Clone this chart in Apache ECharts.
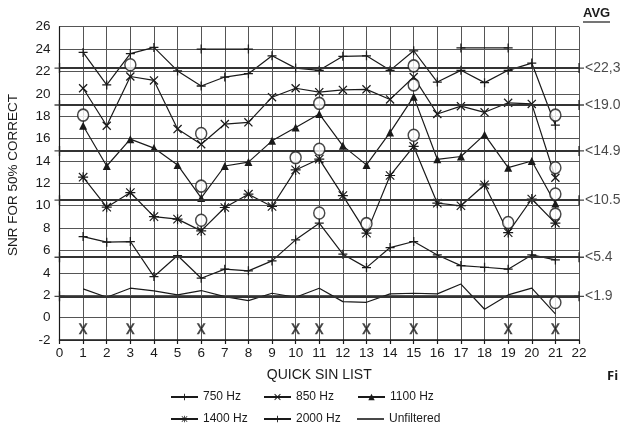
<!DOCTYPE html>
<html lang="en">
<head>
    <meta charset="UTF-8">
    <title>Quick SIN</title>
    <script type="text/javascript" src="https://cdn.jsdelivr.net/npm/echarts@6/dist/echarts.min.js"></script>
    <style>
      html, body { margin: 0; padding: 0; background: #fff; }
      #chart { width: 625px; height: 424px; }
    </style>
</head>
<body>
  <div id="chart"></div>

<script type="text/javascript">

  // list numbers 1..21
  var lists = [1,2,3,4,5,6,7,8,9,10,11,12,13,14,15,16,17,18,19,20,21];

  var hz750  = [23.7,20.8,23.6,24.15,22.05,20.7,21.5,21.8,23.4,22.3,22.1,23.35,23.4,22.1,23.85,21.05,22.1,21.0,22.1,22.75,17.2];
  var hz850  = [20.5,17.15,21.55,21.2,16.85,15.5,17.3,17.45,19.7,20.5,20.15,20.35,20.4,19.5,21.5,18.2,18.9,18.35,19.2,19.1,12.5];
  var hz1100 = [17.15,13.55,15.95,15.15,13.65,10.7,13.55,13.9,15.8,17.0,18.2,15.35,13.65,16.55,19.75,14.15,14.4,16.35,13.4,14.0,10.2];
  var hz1400 = [12.55,9.87,11.18,9.03,8.8,7.75,9.84,11.03,9.93,13.2,14.17,10.9,7.55,12.7,15.3,10.23,10.0,11.87,7.6,10.6,8.45];
  var hz2000 = [7.24,6.74,6.8,3.67,5.55,3.52,4.33,4.18,5.07,6.95,8.44,5.67,4.47,6.26,6.8,5.6,4.65,4.5,4.33,5.6,5.16];
  var unfiltered = [2.57,1.82,2.63,2.39,2.03,2.42,1.88,1.52,2.18,1.82,2.63,1.43,1.37,2.12,2.18,2.12,3.0,0.75,2.03,2.63,0.33];

  // short segments drawn at 24
  var top750a = [[6,24],[8,24]];
  var top750b = [[17,24.1],[19,24.1]];

  // circle marks (list, snr)
  var circles = [[1,18.1],[3,22.6],[6,16.45],[6,11.75],[6,8.7],[10,14.3],[11,19.15],[11,15.05],[11,9.35],
                 [13,8.4],[15,22.5],[15,20.8],[15,16.3],[19,8.5],[21,18.1],[21,13.4],[21,11.05],[21,9.25],[21,1.35]];

  // X marks along the bottom
  var xMarkLists = [1,3,6,10,11,13,15,19,21];

  var avgValues = [22.3,19.0,14.9,10.5,5.4,1.9];
  var avgLabels = ['22,3','19.0','14.9','10.5','5.4','1.9'];

  var legendNames = ['750 Hz','850 Hz','1100 Hz','1400 Hz','2000 Hz','Unfiltered'];

  var INK = '#1a1a1a';
  var FONT = 'Liberation Sans, Arial, sans-serif';
  var plusPath = 'path://M0,4.3L10,4.3L10,5.7L0,5.7Z M4.3,0L5.7,0L5.7,10L4.3,10Z';
  var crossPath = 'path://M1,0L10,9L9,10L0,1Z M9,0L10,1L1,10L0,9Z';
  var boldX = 'path://M0,0L2.6,0L5,3.6L7.4,0L10,0L6.3,5L10,10L7.4,10L5,6.4L2.6,10L0,10L3.7,5Z';
  var starPath = 'path://M0,4.4L10,4.4L10,5.6L0,5.6Z M4.4,0L5.6,0L5.6,10L4.4,10Z M1.2,0.4L9.6,8.8L8.8,9.6L0.4,1.2Z M8.8,0.4L9.6,1.2L1.2,9.6L0.4,8.8Z';

  function pairs(arr){
    var out = [];
    for (var i = 0; i < arr.length; i++) { out.push([lists[i], arr[i]]); }
    return out;
  }

  function lineSeries(name, arr, symbol, size){
    return {
      name: name,
      type: 'line',
      data: pairs(arr),
      symbol: symbol,
      symbolSize: size,
      showSymbol: symbol !== 'none',
      itemStyle: { color: INK },
      lineStyle: { color: INK, width: 1.2 },
      z: 3
    };
  }

  var avgLeft = [], avgRight = [], avgLines = [];
  for (var k = 0; k < avgValues.length; k++) {
    avgLeft.push([0, avgValues[k]]);
    avgRight.push({ value: [22, avgValues[k]], label: { formatter: '<' + avgLabels[k] } });
    avgLines.push({ yAxis: avgValues[k] });
  }

  var xMarks = [];
  for (var m = 0; m < xMarkLists.length; m++) { xMarks.push([xMarkLists[m], -1]); }

  // two rows, three columns of legend entries
  var legendCols = [170, 263, 357];
  var legendRows = [391, 413];
  var legends = [];
  for (var n = 0; n < legendNames.length; n++) {
    var isPlain = legendNames[n] === 'Unfiltered';
    legends.push({
      data: [legendNames[n]],
      left: legendCols[n % 3],
      top: legendRows[Math.floor(n / 3)],
      padding: 0,
      itemWidth: 27,
      itemHeight: isPlain ? 1.6 : 8,
      icon: isPlain ? 'rect' : undefined,
      selectedMode: false,
      textStyle: { color: INK, fontSize: 12, fontFamily: FONT }
    });
  }

  var chart = echarts.init(document.getElementById('chart'), null, { renderer: 'canvas' });

  var option = {
    backgroundColor: '#fff',
    animation: false,
    textStyle: { fontFamily: FONT },
    grid: { left: 59.5, top: 26.7, right: 46, bottom: 84 },
    xAxis: {
      type: 'value', min: 0, max: 22, interval: 1,
      name: 'QUICK SIN LIST', nameLocation: 'middle', nameGap: 28,
      nameTextStyle: { color: INK, fontSize: 14 },
      axisLine: { show: true, onZero: false, lineStyle: { color: INK, width: 1.5 } },
      axisTick: { show: true, length: 4, lineStyle: { color: INK, width: 1.2 } },
      axisLabel: { color: INK, fontSize: 13.5, margin: 6 },
      splitLine: { show: true, lineStyle: { color: '#555', width: 1 } }
    },
    yAxis: {
      type: 'value', min: -2, max: 26, interval: 2,
      axisLine: { show: true, lineStyle: { color: INK, width: 1.2 } },
      axisTick: { show: false },
      axisLabel: { color: INK, fontSize: 13.5, margin: 9 },
      splitLine: { show: true, lineStyle: { color: '#555', width: 1 } }
    },
    legend: legends,
    graphic: [
      { type: 'text', x: 13, y: 175, rotation: Math.PI / 2,
        style: { text: 'SNR FOR 50% CORRECT', fontSize: 13.5, fill: INK, fontFamily: FONT, align: 'center', verticalAlign: 'middle' } },
      { type: 'text', left: 583, top: 7, style: { text: 'AVG', fontSize: 13, fontWeight: 'bold', fill: INK, fontFamily: FONT } },
      { type: 'line', shape: { x1: 583, y1: 22, x2: 610, y2: 22 }, style: { stroke: INK, lineWidth: 1.2 } },
      { type: 'text', left: 607, top: 370, style: { text: 'Fi', fontSize: 13, fontWeight: 'bold', fill: INK, fontFamily: 'Open Sans, Liberation Sans, sans-serif' } }
    ],
    series: [
      lineSeries('750 Hz', hz750, plusPath, 9),
      lineSeries('850 Hz', hz850, crossPath, 9),
      lineSeries('1100 Hz', hz1100, 'triangle', 8),
      lineSeries('1400 Hz', hz1400, starPath, 10),
      lineSeries('2000 Hz', hz2000, plusPath, 9),
      lineSeries('Unfiltered', unfiltered, 'none', 0),
      {
        type: 'line', data: top750a, symbol: plusPath, symbolSize: 9,
        itemStyle: { color: INK }, lineStyle: { color: INK, width: 1.2 }, z: 3
      },
      {
        type: 'line', data: top750b, symbol: plusPath, symbolSize: 9,
        itemStyle: { color: INK }, lineStyle: { color: INK, width: 1.2 }, z: 3
      },
      {
        type: 'scatter', data: circles, symbol: 'circle', symbolSize: [11, 12],
        itemStyle: { color: '#fff', borderColor: INK, borderWidth: 1.5 }, z: 5
      },
      {
        type: 'scatter', data: xMarks, symbol: boldX, symbolSize: [9, 11],
        itemStyle: { color: INK }, z: 5
      },
      {
        type: 'scatter', data: avgLeft, symbol: plusPath, symbolSize: 10, clip: false,
        itemStyle: { color: INK }, z: 4,
        markLine: {
          silent: true, symbol: 'none', label: { show: false },
          lineStyle: { color: '#333', width: 2, type: 'solid' },
          data: avgLines
        }
      },
      {
        type: 'scatter', data: avgRight, symbol: plusPath, symbolSize: 10, clip: false,
        itemStyle: { color: INK }, z: 4,
        label: { show: true, position: 'right', distance: 1, color: INK, fontSize: 14 }
      }
    ]
  };

  chart.setOption(option);
</script>
</body>
</html>
